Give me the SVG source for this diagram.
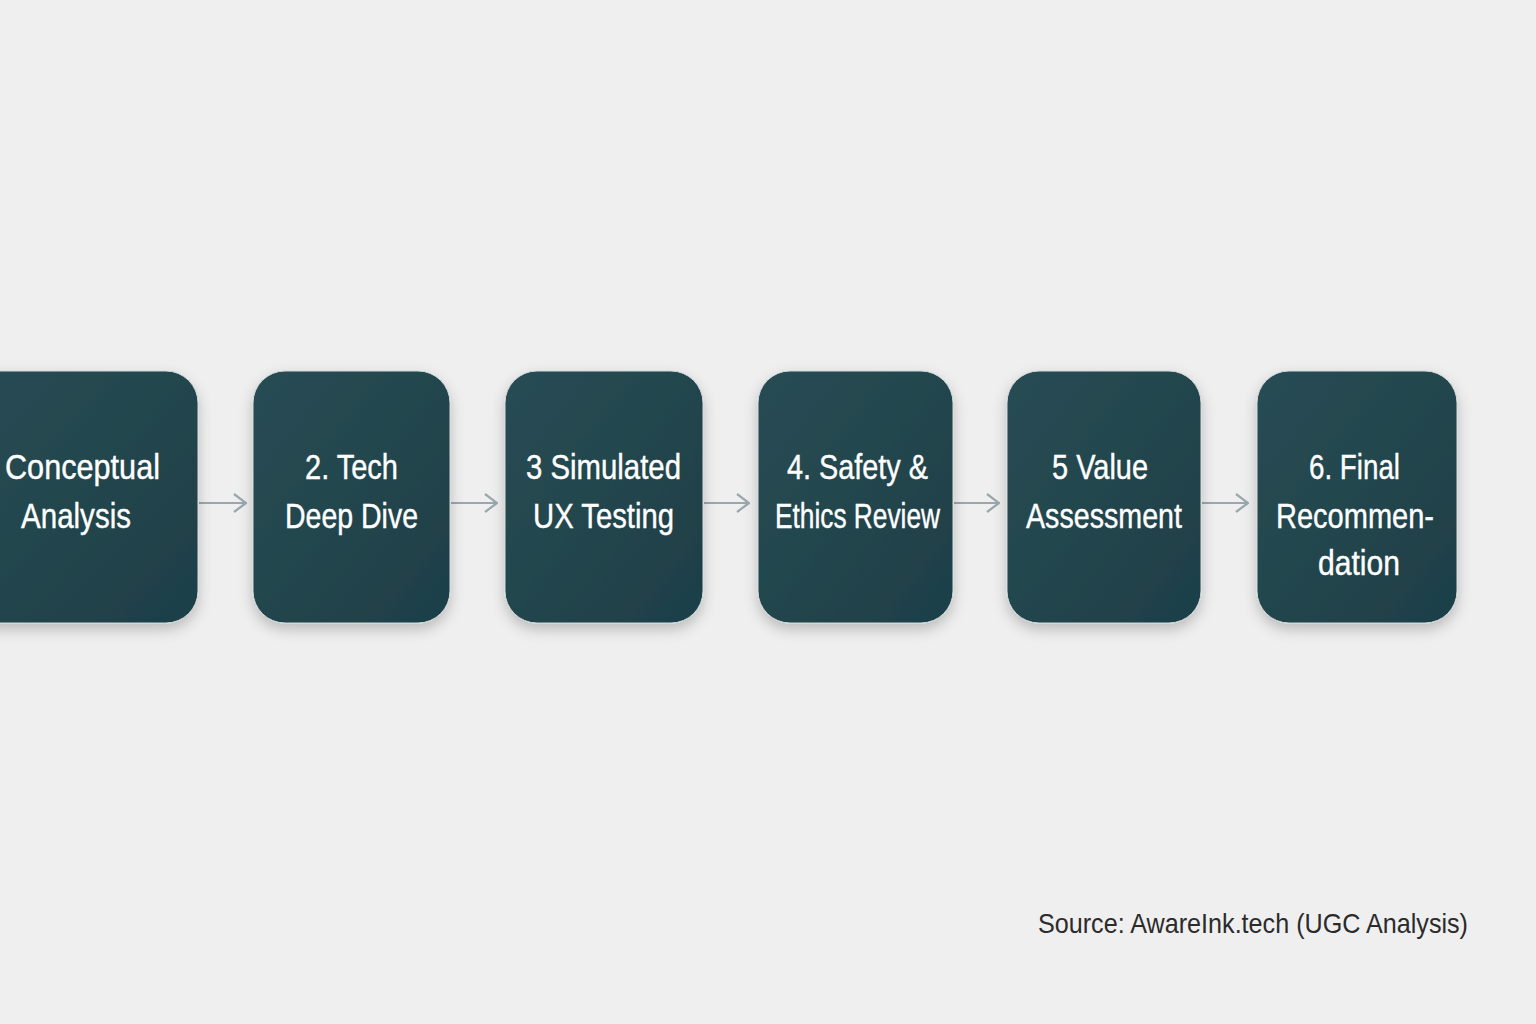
<svg xmlns="http://www.w3.org/2000/svg" width="1536" height="1024" viewBox="0 0 1536 1024">
<defs>
<linearGradient id="boxg" x1="0" y1="0" x2="1" y2="1">
<stop offset="0" stop-color="#284c54"/>
<stop offset="1" stop-color="#1e3f47"/>
</linearGradient>
<filter id="sh" x="-20%" y="-20%" width="140%" height="140%">
<feDropShadow dx="0" dy="6" stdDeviation="7" flood-color="#000" flood-opacity="0.22"/>
</filter>
<marker id="arr" viewBox="0 0 14 20" refX="13" refY="10" markerWidth="14" markerHeight="20" markerUnits="userSpaceOnUse" orient="auto">
<path d="M1,1 L13,10 L1,19" fill="none" stroke="#9aa7ad" stroke-width="2.2"/>
</marker>
</defs>
<style>
.box{fill:url(#boxg);filter:url(#sh);stroke:#cfd8da;stroke-width:1}
.lbl{font-family:"Liberation Sans",Arial,sans-serif;font-size:35px;fill:#ffffff;stroke:#ffffff;stroke-width:0.4}
.src{font-family:"Liberation Sans",Arial,sans-serif;font-size:28px;fill:#2b2b2b}
.con{stroke:#9aa7ad;stroke-width:2.2;fill:none;marker-end:url(#arr)}
</style>
<rect width="1536" height="1024" fill="#efefef"/>
<g id="connectors">
<line class="con" x1="199" y1="503" x2="246" y2="503"/>
<line class="con" x1="451" y1="503" x2="497" y2="503"/>
<line class="con" x1="704" y1="503" x2="749" y2="503"/>
<line class="con" x1="954" y1="503" x2="999" y2="503"/>
<line class="con" x1="1202" y1="503" x2="1248" y2="503"/>
</g>
<g id="node1">
<rect class="box" x="-40" y="371" width="238" height="252" rx="32"/>
<text class="lbl" x="5" y="479" textLength="155" lengthAdjust="spacingAndGlyphs">Conceptual</text>
<text class="lbl" x="21" y="528" textLength="110" lengthAdjust="spacingAndGlyphs">Analysis</text>
</g>
<g id="node2">
<rect class="box" x="253" y="371" width="197" height="252" rx="32"/>
<text class="lbl" x="305" y="479" textLength="93" lengthAdjust="spacingAndGlyphs">2. Tech</text>
<text class="lbl" x="285" y="528" textLength="133" lengthAdjust="spacingAndGlyphs">Deep Dive</text>
</g>
<g id="node3">
<rect class="box" x="505" y="371" width="198" height="252" rx="32"/>
<text class="lbl" x="526" y="479" textLength="155" lengthAdjust="spacingAndGlyphs">3 Simulated</text>
<text class="lbl" x="533" y="528" textLength="141" lengthAdjust="spacingAndGlyphs">UX Testing</text>
</g>
<g id="node4">
<rect class="box" x="758" y="371" width="195" height="252" rx="32"/>
<text class="lbl" x="787" y="479" textLength="141" lengthAdjust="spacingAndGlyphs">4. Safety &amp;</text>
<text class="lbl" x="775" y="528" textLength="165" lengthAdjust="spacingAndGlyphs">Ethics Review</text>
</g>
<g id="node5">
<rect class="box" x="1007" y="371" width="194" height="252" rx="32"/>
<text class="lbl" x="1052" y="479" textLength="96" lengthAdjust="spacingAndGlyphs">5 Value</text>
<text class="lbl" x="1026" y="528" textLength="156" lengthAdjust="spacingAndGlyphs">Assessment</text>
</g>
<g id="node6">
<rect class="box" x="1257" y="371" width="200" height="252" rx="32"/>
<text class="lbl" x="1309" y="479" textLength="91" lengthAdjust="spacingAndGlyphs">6. Final</text>
<text class="lbl" x="1276" y="528" textLength="158" lengthAdjust="spacingAndGlyphs">Recommen-</text>
<text class="lbl" x="1318" y="575" textLength="82" lengthAdjust="spacingAndGlyphs">dation</text>
</g>
<g id="source">
<text class="src" x="1038" y="933" textLength="430" lengthAdjust="spacingAndGlyphs">Source: AwareInk.tech (UGC Analysis)</text>
</g>
</svg>
